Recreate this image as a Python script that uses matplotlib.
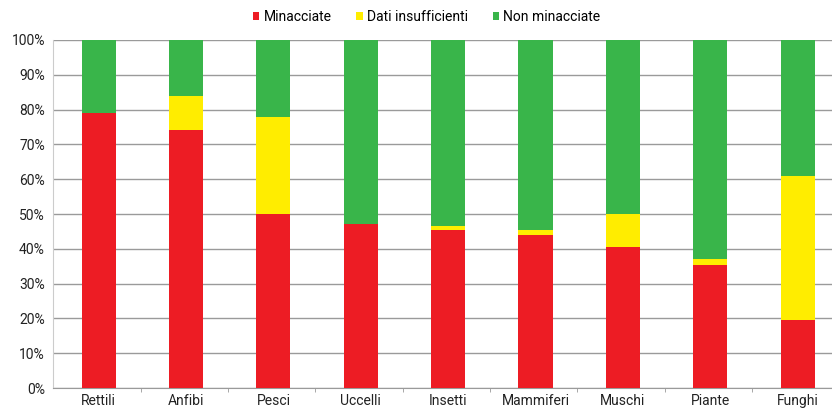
import matplotlib.pyplot as plt
import numpy as np
from matplotlib.ticker import FixedLocator

# === data ===
categories = ['Rettili', 'Anfibi', 'Pesci', 'Uccelli', 'Insetti',
              'Mammiferi', 'Muschi', 'Piante', 'Funghi']
minacciate = [79, 74, 50, 47, 45.5, 44, 40.5, 35.5, 19.5]
dati_insufficienti = [0, 10, 28, 0, 1, 1.5, 9.5, 1.5, 41.5]
non_minacciate = [100 - a - b for a, b in zip(minacciate, dati_insufficienti)]

series_names = ['Minacciate', 'Dati insufficienti', 'Non minacciate']
colors = ['#ED1C24', '#FFED00', '#39B54A']

plt.rcParams['font.family'] = ['Roboto', 'DejaVu Sans']

fig = plt.figure(figsize=(8.32, 4.12), dpi=100)
ax = fig.add_axes([0.064, 0.058, 0.945, 0.845])

x = np.arange(len(categories))
bottom = np.zeros(len(categories))
for name, vals, col in zip(series_names, [minacciate, dati_insufficienti, non_minacciate], colors):
    ax.bar(x + 0.02, vals, width=0.39, bottom=bottom, color=col, label=name, zorder=3)
    bottom += np.array(vals)

ax.set_xlim(-0.5, len(categories) - 0.5)
ax.set_ylim(0, 100)
ax.set_yticks(np.arange(0, 101, 10))
ax.set_yticklabels([f'{v}%' for v in range(0, 101, 10)], fontsize=10, color='#222222')
ax.set_xticks(x + 0.02)
ax.set_xticklabels(categories, fontsize=10, color='#222222')
ax.xaxis.set_minor_locator(FixedLocator(np.arange(0.5, len(categories) - 0.5, 1)))
ax.tick_params(axis='x', which='major', length=0, pad=4)
ax.tick_params(axis='x', which='minor', length=3, color='#999999')
ax.tick_params(axis='y', length=0, pad=6)

ax.grid(axis='y', color='#9a9a9a', linewidth=1.0, zorder=0)
for s in ['top', 'right']:
    ax.spines[s].set_visible(False)
ax.spines['left'].set_color('#cccccc')
ax.spines['bottom'].set_color('#9a9a9a')

ax.legend(loc='lower center', bbox_to_anchor=(0.475, 1.01), ncol=3, frameon=False,
          fontsize=10, handlelength=0.45, handleheight=0.45, handletextpad=0.3,
          columnspacing=1.8)

fig.savefig('out.png', dpi=100)
